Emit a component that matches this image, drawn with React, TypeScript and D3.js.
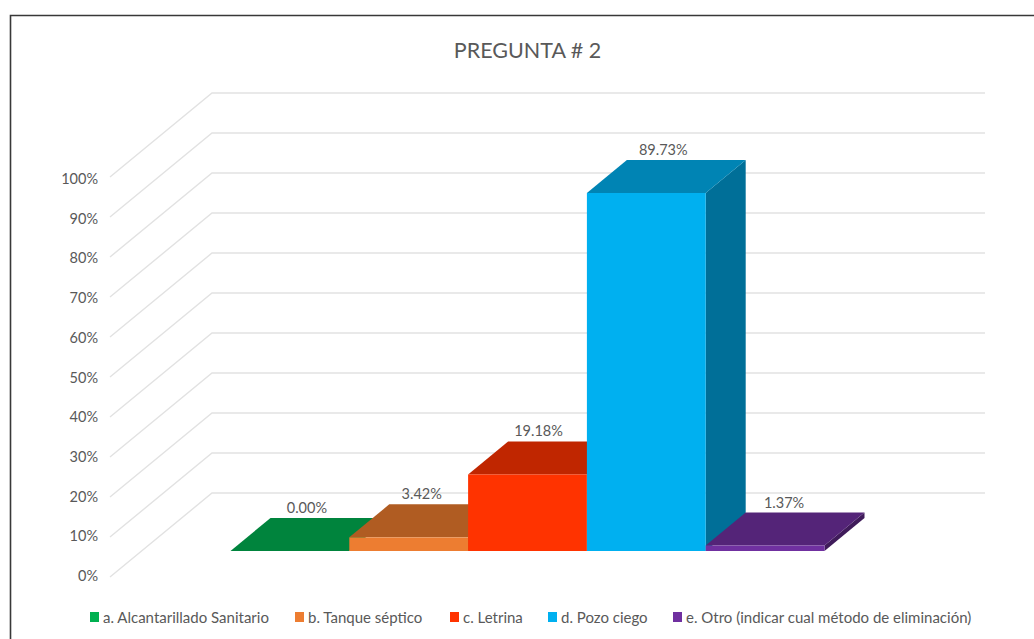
import React from "react";
import * as d3 from "d3";

const categories = [
  "a. Alcantarillado Sanitario",
  "b. Tanque séptico",
  "c. Letrina",
  "d. Pozo ciego",
  "e. Otro (indicar cual método de eliminación)",
];
const values = [0, 3.42, 19.18, 89.73, 1.37];
const valueLabels = ["0.00%", "3.42%", "19.18%", "89.73%", "1.37%"];
const frontColors = ["#00B050", "#ED7D31", "#FF3300", "#00B0F0", "#7030A0"];
const topColors = ["#00843D", "#B05C22", "#C02600", "#0084B4", "#542478"];
const sideColors = ["#006B32", "#8E4A1B", "#9A1F00", "#006F98", "#3F1B5A"];
const legendX = [90, 295, 450, 548, 673];
const labelShift = [17, 13, 11, 17, 19];
const ticks = d3.range(0, 101, 10);

const WIDTH = 1034;
const HEIGHT = 639;
const BACK_LEFT = 212;
const BACK_RIGHT = 985;
const DEPTH_X = 102;
const DEPTH_Y = 84;
const BAR_DX = 40;
const BAR_DY = 33;
const TEXT = "#595959";
const FONT = "Lato, 'Open Sans', sans-serif";

// The wall's top gridline is the 100% one; tick text sits on its own slightly tighter scale.
const wallY = d3.scaleLinear().domain([0, 100]).range([493, 93]);
const tickLabelY = d3.scaleLinear().domain([0, 100]).range([575, 178]);
const barHeight = d3.scaleLinear().domain([0, 100]).range([0, 399]);
const barX = d3.scaleBand<number>().domain(d3.range(categories.length)).range([230.5, 824.5]).padding(0);
const BASE_Y = 551;

const poly = (pts: [number, number][]) => d3.line()(pts) + "Z";

export default function App() {
  const w = barX.bandwidth();
  return (
    <svg
      width={WIDTH}
      height={HEIGHT}
      viewBox={`0 0 ${WIDTH} ${HEIGHT}`}
      style={{ position: "absolute", left: 0, top: 0, background: "#fff" }}
      fontFamily={FONT}
    >
      <path d={`M10.5,${HEIGHT} V15.5 H${WIDTH}`} fill="none" stroke="#383838" strokeWidth={1.6} />
      <text x={527.5} y={58} textAnchor="middle" fontSize={21.5} fill={TEXT}>
        PREGUNTA # 2
      </text>

      {ticks.map((t) => {
        const y = wallY(t);
        return (
          <g key={t}>
            <path
              d={d3.line()([
                [BACK_LEFT - DEPTH_X, y + DEPTH_Y],
                [BACK_LEFT, y],
                [BACK_RIGHT, y],
              ]) as string}
              fill="none"
              stroke="#E2E2E2"
              strokeWidth={1.4}
            />
            <text x={98} y={tickLabelY(t) + 6} textAnchor="end" fontSize={14.5} fill={TEXT}>
              {t}%
            </text>
          </g>
        );
      })}

      {values.map((v, i) => {
        const x0 = barX(i) as number;
        const x1 = x0 + w;
        const top = BASE_Y - barHeight(v);
        return (
          <g key={categories[i]}>
            <path
              d={poly([
                [x1, BASE_Y],
                [x1 + BAR_DX, BASE_Y - BAR_DY],
                [x1 + BAR_DX, top - BAR_DY],
                [x1, top],
              ])}
              fill={sideColors[i]}
            />
            <path
              d={poly([
                [x0, top],
                [x0 + BAR_DX, top - BAR_DY],
                [x1 + BAR_DX, top - BAR_DY],
                [x1, top],
              ])}
              fill={topColors[i]}
            />
            <rect x={x0} y={top} width={w} height={BASE_Y - top} fill={frontColors[i]} />
          </g>
        );
      })}

      {values.map((v, i) => (
        <text
          key={valueLabels[i]}
          x={(barX(i) as number) + w / 2 + labelShift[i]}
          y={BASE_Y - barHeight(v) - BAR_DY - 5}
          textAnchor="middle"
          fontSize={14.5}
          fill={TEXT}
        >
          {valueLabels[i]}
        </text>
      ))}

      {categories.map((c, i) => (
        <g key={c}>
          <rect x={legendX[i]} y={612} width={9} height={10} fill={frontColors[i]} />
          <text x={legendX[i] + 13} y={623} fontSize={15} fill={TEXT}>
            {c}
          </text>
        </g>
      ))}
    </svg>
  );
}
